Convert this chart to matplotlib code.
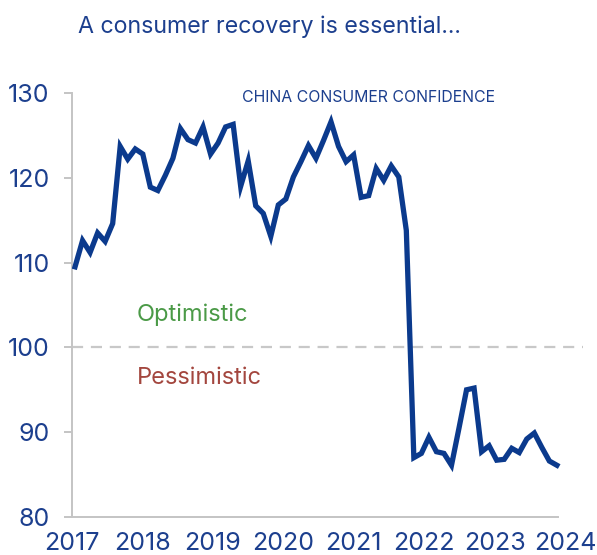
import matplotlib
matplotlib.use("Agg")
import matplotlib.pyplot as plt
import numpy as np

plt.rcParams['font.family'] = ['Inter', 'DejaVu Sans']

title = "A consumer recovery is essential..."
series_label = "CHINA CONSUMER CONFIDENCE"
start_year = 2017.043
end_year = 2023.885
values = [109.5, 112.6, 111.2, 113.5, 112.5, 114.6, 123.7, 122.2, 123.4, 122.8,
          118.9, 118.5, 120.3, 122.3, 125.8, 124.5, 124.1, 126.0, 122.8, 124.1,
          126.0, 126.3, 119.0, 122.0, 116.7, 115.8, 113.1, 116.8, 117.5, 120.1,
          121.9, 123.8, 122.3, 124.4, 126.6, 123.7, 121.9, 122.7, 117.7, 117.9,
          121.1, 119.7, 121.4, 120.1, 113.8, 87.0, 87.5, 89.4, 87.7, 87.5,
          86.1, 90.5, 95.0, 95.2, 87.7, 88.4, 86.7, 86.8, 88.1, 87.6,
          89.2, 89.9, 88.2, 86.6, 86.1]
year_ticks = [2017, 2018, 2019, 2020, 2021, 2022, 2023, 2024]
y_ticks = [80, 90, 100, 110, 120, 130]
threshold = 100

x = np.linspace(start_year, end_year, len(values))

W, H = 597, 555
fig = plt.figure(figsize=(W/100, H/100), dpi=100)
ax = fig.add_axes([72/W, (H-517)/H, (565-72)/W, (517-93)/H])

navy = '#0b3a8d'
label_col = '#1c3f8e'
grey = '#c4c4c4'

ax.plot(x, values, color=navy, lw=3.8, solid_joinstyle='miter', zorder=3)
ax.axhline(threshold, xmin=0, xmax=(583-72)/(565-72), color='#c8c8c8', lw=1.6,
           dashes=(5, 3.5), zorder=2, clip_on=False)

ax.set_xlim(2017, 2024)
ax.set_ylim(80, 130)
ax.set_xticks(year_ticks)
ax.set_xticklabels([str(t) for t in year_ticks])
ax.set_yticks(y_ticks)

for s in ['top', 'right']:
    ax.spines[s].set_visible(False)
for s in ['left', 'bottom']:
    ax.spines[s].set_color(grey)
    ax.spines[s].set_linewidth(1.4)
ax.spines['bottom'].set_bounds(2017, 2023.9)

ax.tick_params(axis='y', length=6, width=1.4, color=grey, pad=10,
               labelsize=18, labelcolor=label_col)
ax.tick_params(axis='x', length=0, pad=11, labelsize=18, labelcolor=label_col)

fig.text(269/W, 1-27/H, title, ha='center', va='center', fontsize=16.7, color=label_col)
ax.text(242/W, 1-98/H, series_label, transform=fig.transFigure, ha='left', va='center',
        fontsize=11.4, color=label_col)
ax.text(137/W, 1-315/H, "Optimistic", transform=fig.transFigure, ha='left', va='center',
        fontsize=17, color='#4b9a47')
ax.text(137/W, 1-378/H, "Pessimistic", transform=fig.transFigure, ha='left', va='center',
        fontsize=17, color='#a3463e')

fig.savefig('out.png', dpi=100)
